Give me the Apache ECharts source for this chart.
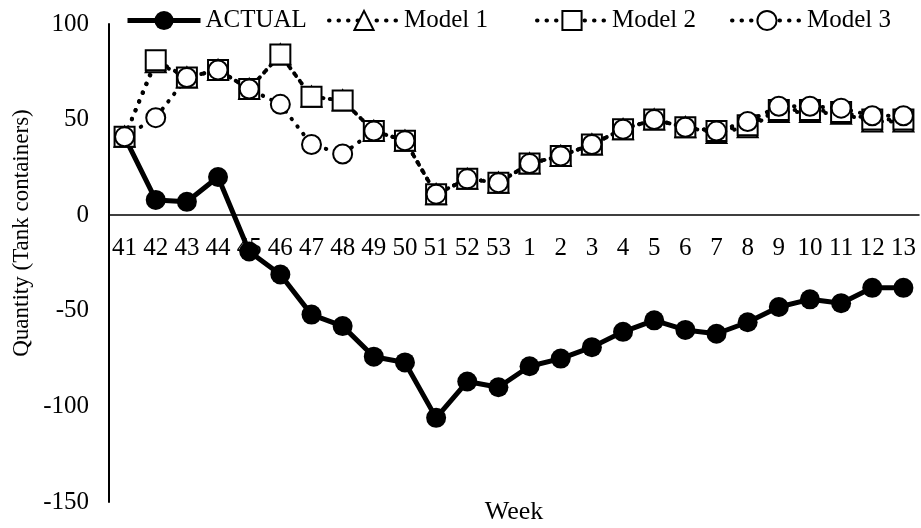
<!DOCTYPE html>
<html>
<head>
<meta charset="utf-8">
<script src="https://cdn.jsdelivr.net/npm/echarts@6/dist/echarts.min.js"></script>
<style>
  html, body { margin: 0; padding: 0; background: #fff; }
  #chart { width: 921px; height: 528px; }
</style>
</head>
<body>
<div id="chart"></div>
<script>
// Week numbers (end of one year into the next)
const weeks = ['41','42','43','44','45','46','47','48','49','50','51','52','53',
               '1','2','3','4','5','6','7','8','9','10','11','12','13'];

// Quantity of tank containers per week
const actual = [41, 8, 7, 20, -19, -31, -52, -58, -74, -77, -106, -87, -90,
                -79, -75, -69, -61, -55, -60, -62, -56, -48, -44, -46, -38, -38];
const model1 = [41, 80, 72, 76, 66, 84, 62, 60, 44, 39, 11, 19, 17,
                27, 31, 37, 45, 50, 46, 43, 46, 54, 54, 53, 49, 49];
const model2 = [41, 81, 72, 76, 66, 84, 62, 60, 44, 39, 11, 19, 17,
                27, 31, 37, 45, 50, 46, 44, 47, 55, 55, 54, 50, 50];
const model3 = [41, 51, 72, 76, 66, 58, 37, 32, 44, 39, 11, 19, 17,
                27, 31, 37, 45, 50, 46, 44, 49, 57, 57, 56, 52, 52];

const FONT = "'Liberation Serif', 'Times New Roman', serif";

const solid = { color: '#000', width: 5 };
const dotted = { color: '#000', width: 4, type: [0.5, 9], cap: 'round' };
const hollow = { color: '#fff', borderColor: '#000', borderWidth: 2 };

function legendAt(name, left, width, lineStyle) {
  return {
    data: [name],
    left: left,
    top: 8,
    itemWidth: width,
    itemHeight: 24,
    itemGap: 0,
    padding: 0,
    selectedMode: false,
    lineStyle: lineStyle,
    textStyle: { fontFamily: FONT, fontSize: 25, color: '#000' }
  };
}

const chart = echarts.init(document.getElementById('chart'), null, { renderer: 'canvas' });

chart.setOption({
  animation: false,
  backgroundColor: '#fff',
  textStyle: { fontFamily: FONT },
  grid: { left: 109, right: 2, top: 24, bottom: 26, containLabel: false, outerBoundsMode: 'none' },
  legend: [
    legendAt('ACTUAL', 125, 73, solid),
    legendAt('Model 1', 327, 70, dotted),
    legendAt('Model 2', 535, 70, dotted),
    legendAt('Model 3', 730, 70, dotted)
  ],
  xAxis: {
    type: 'category',
    data: weeks,
    boundaryGap: true,
    axisLine: { onZero: true, lineStyle: { color: '#000', width: 1.5 } },
    axisTick: { show: false },
    // week labels sit just under the zero line, measured up from the grid's bottom edge
    axisLabel: { interval: 0, fontFamily: FONT, fontSize: 25, color: '#000', margin: -266, hideOverlap: false },
    splitLine: { show: false },
    name: 'Week',
    nameLocation: 'middle',
    nameGap: -3,
    nameTextStyle: { fontFamily: FONT, fontSize: 26, color: '#000' }
  },
  yAxis: {
    type: 'value',
    min: -150,
    max: 100,
    interval: 50,
    axisLine: { show: true, onZero: false, lineStyle: { color: '#000', width: 2 } },
    axisTick: { show: false },
    splitLine: { show: false },
    axisLabel: { fontFamily: FONT, fontSize: 25, color: '#000', margin: 20 }
  },
  graphic: [{
    type: 'text',
    x: 22,
    y: 233,
    rotation: Math.PI / 2,
    style: {
      text: 'Quantity (Tank containers)',
      fontFamily: FONT,
      fontSize: 23,
      fill: '#000',
      align: 'center',
      verticalAlign: 'middle'
    }
  }],
  series: [
    {
      name: 'ACTUAL',
      type: 'line',
      data: actual,
      symbol: 'circle',
      symbolSize: 20,
      lineStyle: solid,
      itemStyle: { color: '#000' }
    },
    {
      name: 'Model 1',
      type: 'line',
      data: model1,
      symbol: 'triangle',
      symbolSize: 20,
      lineStyle: dotted,
      itemStyle: hollow
    },
    {
      name: 'Model 2',
      type: 'line',
      data: model2,
      symbol: 'rect',
      symbolSize: 20,
      lineStyle: dotted,
      itemStyle: hollow
    },
    {
      name: 'Model 3',
      type: 'line',
      data: model3,
      symbol: 'circle',
      symbolSize: 19,
      lineStyle: dotted,
      itemStyle: hollow
    }
  ]
});
</script>
</body>
</html>
